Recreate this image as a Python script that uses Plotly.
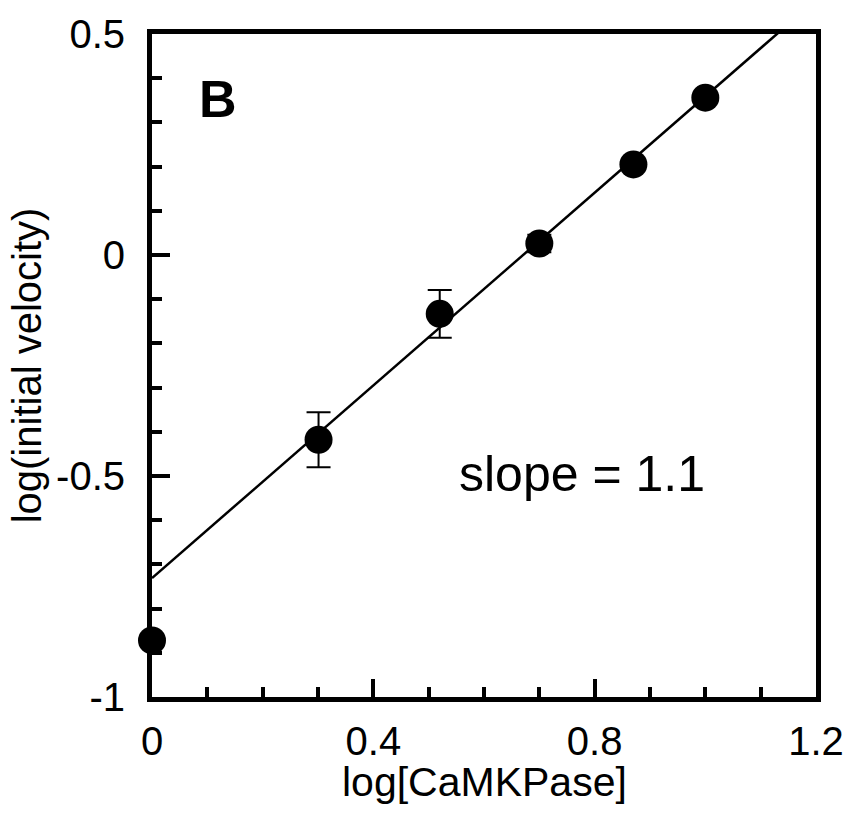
import plotly.graph_objects as go
import numpy as np

# Data
log_camkpase = [0.0, 0.301, 0.52, 0.70, 0.87, 1.0]
log_velocity = [-0.872, -0.418, -0.133, 0.026, 0.205, 0.356]
velocity_err = [0.0, 0.062, 0.054, 0.02, 0.0, 0.0]
fit_slope = 1.09
fit_intercept = -0.731

x_ticks = [0, 0.4, 0.8, 1.2]
x_ticktext = ["0", "0.4", "0.8", "1.2"]
y_ticks = [-1, -0.5, 0, 0.5]
y_ticktext = ["-1", "-0.5", "0", "0.5"]

FONT = "Liberation Sans, Arial, Helvetica, sans-serif"

fit_x = np.array([0.0, 1.2])
fit_y = fit_intercept + fit_slope * fit_x

fig = go.Figure()
fig.add_trace(go.Scatter(x=fit_x, y=fit_y, mode="lines",
                         line=dict(color="black", width=2.5), showlegend=False))
fig.add_trace(go.Scatter(
    x=log_camkpase, y=log_velocity, mode="markers",
    marker=dict(color="black", size=28),
    error_y=dict(type="data", array=velocity_err, visible=True,
                 color="black", thickness=2, width=12),
    showlegend=False, cliponaxis=False))

fig.add_annotation(x=0.12, y=0.354, text="<b>B</b>", showarrow=False,
                   font=dict(family=FONT, size=52, color="black"))
fig.add_annotation(x=0.778, y=-0.495, text="slope = 1.1", showarrow=False,
                   font=dict(family=FONT, size=50, color="black"))
# x-axis title placed as a paper annotation for exact vertical position
fig.add_annotation(xref="paper", yref="paper", x=0.5, y=-0.09, yanchor="top",
                   text="log[CaMKPase]", showarrow=False,
                   font=dict(family=FONT, size=41, color="black"))

axis_common = dict(showgrid=False, zeroline=False, showline=True, linecolor="black",
                   linewidth=5, mirror=True, ticks="inside", tickwidth=4, ticklen=18,
                   tickcolor="black", tickfont=dict(family=FONT, size=40, color="black"))

fig.update_xaxes(range=[0, 1.2], tickvals=x_ticks, ticktext=x_ticktext,
                 ticklabelstandoff=5,
                 minor=dict(dtick=0.1, tick0=0, ticks="inside", ticklen=10, tickwidth=4,
                            tickcolor="black"),
                 **axis_common)
fig.update_yaxes(range=[-1, 0.5], tickvals=y_ticks, ticktext=y_ticktext,
                 ticklabelstandoff=14,
                 minor=dict(dtick=0.1, tick0=0, ticks="inside", ticklen=10, tickwidth=4,
                            tickcolor="black"),
                 title=dict(text="log(initial velocity)", font=dict(family=FONT, size=40, color="black"),
                            standoff=4),
                 **axis_common)

fig.update_layout(width=856, height=814, margin=dict(l=152, r=34, t=29, b=117),
                  plot_bgcolor="white", paper_bgcolor="white")

fig.write_html("out.html")
